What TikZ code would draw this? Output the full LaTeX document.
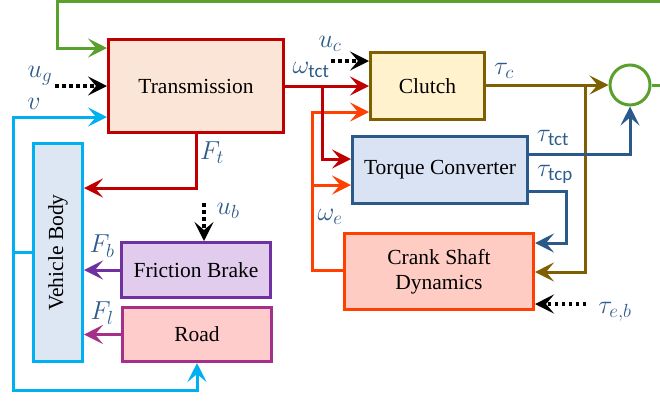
\RequirePackage{fix-cm}
\documentclass[tikz,border=0pt]{standalone}
\usepackage{fontspec}
\usepackage{graphicx}
\setmainfont{Liberation Serif}
\newfontfamily\subfont{Carlito}
\DeclareMathSizes{26}{26}{19}{15}
\newcommand{\sbt}[1]{\hbox{\fontsize{19}{19}\subfont #1}}
\usetikzlibrary{arrows.meta}
\definecolor{greenc}{HTML}{5AA02C}
\definecolor{transc}{HTML}{C00000}
\definecolor{transf}{HTML}{FBE5D6}
\definecolor{clc}{HTML}{7F6000}
\definecolor{clf}{HTML}{FFF2CC}
\definecolor{tcc}{HTML}{2B5A8A}
\definecolor{tcf}{HTML}{DAE3F3}
\definecolor{crc}{HTML}{FF4000}
\definecolor{crf}{HTML}{FFCCC4}
\definecolor{cyanc}{HTML}{00B0F0}
\definecolor{vbf}{HTML}{DDE7F4}
\definecolor{brc}{HTML}{7030A0}
\definecolor{brf}{HTML}{E2CCEE}
\definecolor{rdc}{HTML}{A5308A}
\definecolor{rdf}{HTML}{FFCCCC}
\definecolor{lblc}{HTML}{2E5C8A}
\begin{document}
\begin{tikzpicture}[x=1pt,y=-1pt,
  box/.style={draw, line width=3pt, inner sep=0pt, align=center,
    font=\fontsize{21.5}{25}\selectfont},
  lbl/.style={text=lblc, inner sep=0pt, font=\fontsize{26}{28}\selectfont},
  arr/.style={line width=3pt, -{Stealth[length=19pt,width=19pt,inset=8pt]}},
  dotarr/.style={line width=3.5pt, black, dash pattern=on 3.5pt off 3.5pt,
    -{Stealth[length=19pt,width=19pt,inset=8pt]}}]
\useasboundingbox (0,0) rectangle (660,400);

% blocks
\node[box, draw=transc, fill=transf, minimum width=175pt, minimum height=93pt] (trans) at (196,86) {Transmission};
\node[box, draw=clc, fill=clf, minimum width=114pt, minimum height=67pt] (clutch) at (427.5,86) {Clutch};
\node[box, draw=tcc, fill=tcf, minimum width=175pt, minimum height=67pt] (tc) at (440,170) {Torque Converter};
\node[box, draw=crc, fill=crf, minimum width=189pt, minimum height=76pt] (crank) at (439,271.5) {Crank Shaft\\Dynamics};
\node[box, draw=brc, fill=brf, minimum width=149pt, minimum height=55pt] (brake) at (196,270) {Friction Brake};
\node[box, draw=rdc, fill=rdf, minimum width=149pt, minimum height=54pt] (road) at (197,334.5) {Road};
\node[box, draw=cyanc, fill=vbf, minimum width=49pt, minimum height=218pt] (vb) at (58,252.5) {\rotatebox{90}{Vehicle Body}};
\node[draw=greenc, line width=3pt, fill=white, circle, minimum size=40pt, inner sep=0pt] (circ) at (630,85) {};

% coordinates
\coordinate (gout) at (663,85);
\coordinate (gtop) at (663,1.5);
\coordinate (gin) at (57,1.5);
\coordinate (jt) at (322,86);
\coordinate (je) at (312,185);
\coordinate (jc) at (585,85);
\coordinate (jv) at (13,252);
\coordinate (ugs) at (55,86);
\coordinate (ucs) at (331,61);
\coordinate (ubs) at (204,203);
\coordinate (ebs) at (586,304);

% green loop
\draw[arr, greenc] (circ.east) -- (gout) -- (gtop) -- (gin) |- (trans.west |- 0,48);

% omega_e (orange)
\draw[arr, crc] (crank.west |- 0,270) -| (312,112) -- (clutch.west |- 0,112);
\draw[arr, crc] (je) -- (tc.west |- je);

% omega_tct (red)
\draw[arr, transc] (trans.east) -- (clutch.west);
\draw[arr, transc] (jt) |- (tc.west |- 0,159);

% clutch torque (brown)
\draw[arr, clc] (clutch.east |- circ.west) -- (circ.west);
\draw[arr, clc] (jc) |- (crank.east |- 0,272);

% torque converter outputs (blue)
\draw[arr, tcc] (tc.east |- 0,154) -| (circ.south);
\draw[arr, tcc] (tc.east |- 0,191) -| (566,243) -- (crank.east |- 0,243);

% F_t
\draw[arr, transc] (trans.south) |- (vb.east |- 0,188);
% F_b, F_l
\draw[arr, brc] (brake.west) -- (vb.east |- brake.west);
\draw[arr, rdc] (road.west) -- (vb.east |- road.west);

% v (cyan)
\draw[arr, cyanc] (vb.west |- jv) -- (jv) |- (trans.west |- 0,117);
\draw[arr, cyanc] (jv) |- (road.south |- 0,390) -- (road.south);

% dotted inputs
\draw[dotarr] (ugs) -- (trans.west);
\draw[dotarr] (ucs) -- (clutch.west |- ucs);
\draw[dotarr] (ubs) -- (brake.north -| ubs);
\draw[dotarr] (ebs) -- (crank.east |- ebs);

% labels
\node[lbl] (lug) at (40,76) {$u_g$};
\node[lbl] (lv) at (34,104) {$v$};
\node[lbl] (lft) at (212,153) {$F_t$};
\node[lbl] (lwt) at (311,70) {$\omega_{\sbt{tct}}$};
\node[lbl] (luc) at (330,44) {$u_c$};
\node[lbl] (ltc) at (504,71) {$\tau_c$};
\node[lbl] (ltt) at (553,138) {$\tau_{\sbt{tct}}$};
\node[lbl] (ltp) at (555,174) {$\tau_{\sbt{tcp}}$};
\node[lbl] (lwe) at (330,217) {$\omega_e$};
\node[lbl] (leb) at (615,312) {$\tau_{e,b}$};
\node[lbl] (lub) at (228,211) {$u_b$};
\node[lbl] (lfb) at (102,246) {$F_b$};
\node[lbl] (lfl) at (102,313) {$F_l$};
\end{tikzpicture}
\end{document}
